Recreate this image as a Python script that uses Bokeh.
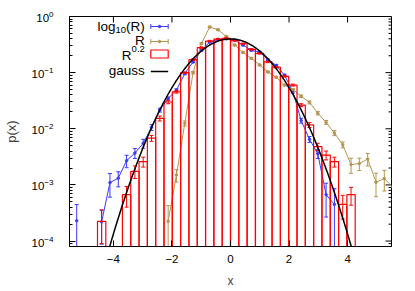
import numpy as np
from bokeh.plotting import figure
from bokeh.models import Range1d, FixedTicker
from bokeh.embed import file_html
from bokeh.resources import INLINE
from bokeh.core.properties import value

# ---------------- data ----------------
bin_width = 0.284
bin_centers = [-5.254, -4.970, -4.686, -4.402, -4.118, -3.834, -3.550, -3.266,
               -2.982, -2.698, -2.414, -2.130, -1.846, -1.562, -1.278, -0.994,
               -0.710, -0.426, -0.142, 0.142, 0.426, 0.710, 0.994, 1.278,
               1.562, 1.846, 2.130, 2.414, 2.698, 2.982, 3.266, 3.550,
               3.834, 4.118, 4.402, 4.686, 4.970, 5.254, 5.538]

# log10(R): p(x) and relative error
log10R_p = [2.3e-4, None, None, 2.2e-4, 1.1e-3, 1.32e-3, 2.7e-3, 3.7e-3,
            5.5e-3, 0.0106, 0.0216, 0.0347, 0.049, 0.096, 0.155, 0.25,
            0.35, 0.39, 0.40, 0.38, 0.31, 0.25, 0.233, 0.17,
            0.135, 0.09, 0.046, 0.014, 0.0065, 0.0036, 6.7e-4, 4.5e-4,
            None, None, None, None, None, None, None]
log10R_rel = [0.95, None, None, 0.6, 0.45, 0.3, 0.25, 0.2,
              0.18, 0.12, 0.08, 0.06, 0.05, 0.04, 0.03, 0.03,
              0.03, 0.03, 0.03, 0.03, 0.03, 0.03, 0.03, 0.03,
              0.03, 0.04, 0.06, 0.1, 0.12, 0.18, 0.6, 0.9,
              None, None, None, None, None, None, None]

# R
R_p = [None, None, None, None, None, None, None, None,
       None, None, None, 2.25e-4, 1.5e-3, 0.0125, 0.1, 0.33,
       0.65, 0.58, 0.44, 0.31, 0.23, 0.18, 0.137, 0.103,
       0.083, 0.06, 0.05, 0.038, 0.0295, 0.019, 0.013, 8.4e-3,
       5.2e-3, 2.3e-3, 2.4e-3, 2.9e-3, 1.12e-3, 1.3e-3, 9.2e-4]
R_rel = [None, None, None, None, None, None, None, None,
         None, None, None, 0.9, 0.25, 0.1, 0.05, 0.03,
         0.03, 0.03, 0.03, 0.03, 0.03, 0.03, 0.03, 0.03,
         0.03, 0.03, 0.04, 0.05, 0.06, 0.07, 0.08, 0.1,
         0.12, 0.3, 0.25, 0.25, 0.45, 0.4, 0.4]

# R^0.2 (histogram bars)
R02_p = [None, None, None, 2.25e-4, None, None, 6.7e-4, 1.74e-3,
         2.6e-3, 6.8e-3, 0.0153, 0.030, 0.0455, 0.10, 0.17, 0.279,
         0.365, 0.396, 0.407, 0.375, 0.327, 0.26, 0.22, 0.155,
         0.125, 0.086, 0.06, 0.0264, 0.0117, 4.8e-3, 3.4e-3, 2.6e-3,
         4.5e-4, 6.7e-4, None, None, None, None, None]
R02_rel = [None, None, None, 0.6, None, None, 0.4, 0.25,
           0.2, 0.12, 0.1, 0.07, 0.05, 0.03, 0.03, 0.03,
           0.03, 0.03, 0.03, 0.03, 0.03, 0.03, 0.03, 0.03,
           0.03, 0.03, 0.04, 0.06, 0.1, 0.15, 0.18, 0.2,
           0.45, 0.35, None, None, None, None, None]

x_ticks = [-4, -2, 0, 2, 4]
y_ticks = [1e-4, 1e-3, 1e-2, 1e-1, 1.0]
legend_labels = ["log", "10", "(R)", "R", "R", "0.2", "gauss"]

X_MIN, X_MAX = -5.5, 5.5
Y_MIN, Y_MAX = 8e-5, 1.0

BLUE = "#3a3aff"
GOLD = "#b5964f"
RED = "#ff0000"
FONT = "Liberation Sans"

FRAME_W, FRAME_H = 322, 230

# ---------------- figure ----------------
p = figure(frame_width=FRAME_W, frame_height=FRAME_H, output_backend="svg",
           toolbar_location=None,
           x_range=Range1d(X_MIN, X_MAX), y_range=Range1d(Y_MIN, Y_MAX),
           y_axis_type="log",
           min_border_left=68, min_border_right=23, min_border_top=16,
           min_border_bottom=43)
p.grid.visible = False
p.outline_line_color = "black"
p.outline_line_width = 1
p.background_fill_color = "white"
p.border_fill_color = "white"

y_minor = [m * 10.0 ** e for e in range(-5, 0) for m in range(2, 10)
           if Y_MIN <= m * 10.0 ** e <= Y_MAX]


def style(ax):
    ax.axis_line_color = "black"
    ax.axis_line_width = 1
    ax.major_tick_in = 6
    ax.major_tick_out = 0
    ax.minor_tick_in = 3
    ax.minor_tick_out = 0
    ax.major_tick_line_color = "black"
    ax.minor_tick_line_color = "black"
    ax.major_label_text_font = FONT
    ax.major_label_text_font_size = "11.5px"
    ax.major_label_text_color = "black"


xa = p.xaxis[0]
xa.ticker = FixedTicker(ticks=x_ticks, minor_ticks=[])
style(xa)
xa.major_label_standoff = 8
xa.axis_label = "x"
xa.axis_label_text_font = FONT
xa.axis_label_text_font_size = "12px"
xa.axis_label_text_font_style = "normal"
xa.axis_label_standoff = 8

ya = p.yaxis[0]
ya.ticker = FixedTicker(ticks=y_ticks, minor_ticks=y_minor)
style(ya)
ya.major_label_standoff = 16
ya.axis_label = "p(x)"
ya.axis_label_text_font = FONT
ya.axis_label_text_font_size = "13px"
ya.axis_label_text_font_style = "normal"
ya.axis_label_standoff = 10

# mirrored inward ticks on the top and right frame edges
dx_major = 6.0 * (X_MAX - X_MIN) / FRAME_W
dx_minor = 3.0 * (X_MAX - X_MIN) / FRAME_W
ly_span = np.log10(Y_MAX) - np.log10(Y_MIN)
fy_top = 10 ** (np.log10(Y_MAX) - 6.0 / FRAME_H * ly_span)
p.segment(x_ticks, [Y_MAX] * len(x_ticks), x_ticks, [fy_top] * len(x_ticks),
          line_color="black", line_width=1)
p.segment([X_MAX] * len(y_ticks), y_ticks, [X_MAX - dx_major] * len(y_ticks),
          y_ticks, line_color="black", line_width=1)
p.segment([X_MAX] * len(y_minor), y_minor, [X_MAX - dx_minor] * len(y_minor),
          y_minor, line_color="black", line_width=1)

# ---------------- helpers ----------------
xs = np.array(bin_centers, dtype=float)
cap = 2.0 * (X_MAX - X_MIN) / FRAME_W


def arr(lst):
    return np.array([np.nan if v is None else v for v in lst], dtype=float)


def errorbars(vals, rel, color):
    v = arr(vals)
    r = arr(rel)
    m = ~np.isnan(v)
    x = xs[m]
    hi = v[m] * (1 + r[m])
    lo = v[m] * (1 - r[m])
    lo = np.where(lo <= 0, 1e-7, lo)
    p.segment(x, lo, x, hi, line_color=color, line_width=1)
    p.segment(x - cap, hi, x + cap, hi, line_color=color, line_width=1)
    p.segment(x - cap, lo, x + cap, lo, line_color=color, line_width=1)


# log10(R)
b = arr(log10R_p)
p.line(xs, b, line_color=BLUE, line_width=1)
errorbars(log10R_p, log10R_rel, BLUE)
mb = ~np.isnan(b)
p.scatter(xs[mb], b[mb], size=2.5, marker="circle", color=BLUE)

# R
g = arr(R_p)
p.line(xs, g, line_color=GOLD, line_width=1)
errorbars(R_p, R_rel, GOLD)
mg = ~np.isnan(g)
p.scatter(xs[mg], g[mg], size=2.5, marker="circle", color=GOLD)

# R^0.2 bars
r = arr(R02_p)
mr = ~np.isnan(r)
p.quad(left=xs[mr] - bin_width / 2, right=xs[mr] + bin_width / 2,
       bottom=1e-7, top=r[mr], fill_color=None, line_color=RED, line_width=1.2)
errorbars(R02_p, R02_rel, RED)

# gauss
xg = np.linspace(X_MIN, X_MAX, 600)
yg = np.exp(-xg ** 2 / 2) / np.sqrt(2 * np.pi)
p.line(xg, yg, line_color="black", line_width=1.5)

# ---------------- key (positions given in page pixels) ----------------
def fx(px):
    return X_MIN + (px - 68.0) / FRAME_W * (X_MAX - X_MIN)


def fy(py):
    ly0, ly1 = np.log10(Y_MIN), np.log10(Y_MAX)
    return 10 ** (ly1 - (py - 16.0) / FRAME_H * (ly1 - ly0))


TR = 143.3
big = value("13.5px")
small = value("9.5px")


def txt(px, py, s, size):
    p.text([fx(px)], [fy(py)], text=[s], text_font=value(FONT),
           text_font_size=size, text_align="right", text_baseline="middle",
           text_color="black")


txt(TR, 25.5, legend_labels[2], big)
txt(TR - 18.7, 29.5, legend_labels[1], small)
txt(TR - 18.7 - 10.6, 25.5, legend_labels[0], big)
txt(TR, 40.0, legend_labels[3], big)
txt(TR, 48.5, legend_labels[5], small)
txt(TR - 13.2, 55.0, legend_labels[4], big)
txt(TR, 70.0, legend_labels[6], big)

sx0, sx1 = 149.3, 166.7
for yy, col in ((26.0, BLUE), (41.0, GOLD)):
    p.segment([fx(sx0)], [fy(yy)], [fx(sx1)], [fy(yy)], line_color=col, line_width=1)
    p.segment([fx(sx0), fx(sx1)], [fy(yy - 2.5)] * 2, [fx(sx0), fx(sx1)],
              [fy(yy + 2.5)] * 2, line_color=col, line_width=1)
    p.scatter([fx((sx0 + sx1) / 2)], [fy(yy)], size=2.5, marker="circle", color=col)
p.quad(left=[fx(sx0)], right=[fx(sx1)], top=[fy(49.5)], bottom=[fy(57.5)],
       fill_color=None, line_color=RED, line_width=1.2)
p.segment([fx(sx0)], [fy(71.0)], [fx(sx1)], [fy(71.0)], line_color="black", line_width=1.5)

open("out.html", "w").write(file_html(p, INLINE))
